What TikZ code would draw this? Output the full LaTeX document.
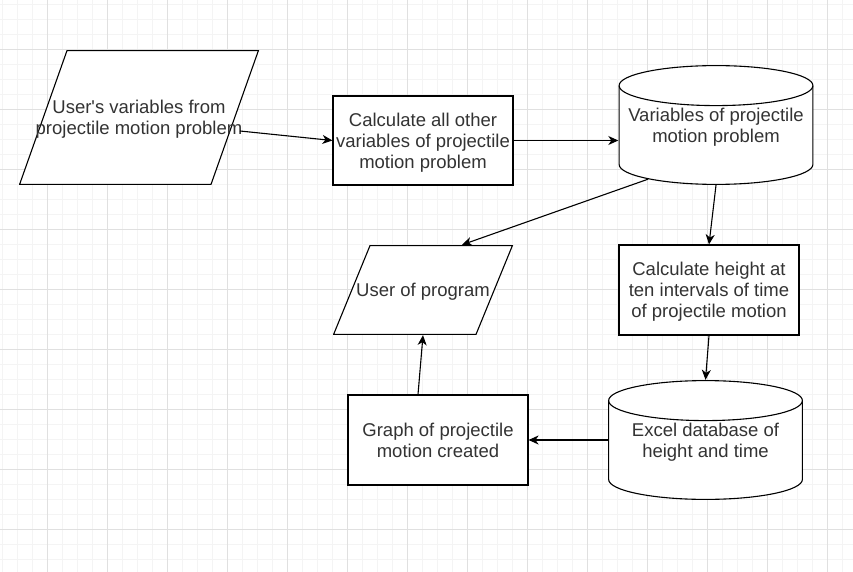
\documentclass[tikz,border=0pt]{standalone}
\usepackage{fontspec}
\setmainfont{Liberation Sans}
\usetikzlibrary{arrows.meta,positioning,calc}
\definecolor{gridmajor}{RGB}{224,224,224}
\definecolor{gridminor}{RGB}{244,244,244}
\definecolor{txtgray}{RGB}{51,51,51}
\begin{document}
\begin{tikzpicture}[
x=1pt,y=-1pt,
base/.style={
  align=center,
  text=txtgray,
  inner sep=0pt,
  text depth=0pt,
  font=\fontsize{18.5}{21}\selectfont
  },
box/.style={
  base,
  draw,
  line width=1.1pt,
  fill=white,
  minimum width=180pt,
  minimum height=90pt
  },
io/.style={
  base,
  path picture={
    \draw[line width=1.1pt,fill=white]
      ($(path picture bounding box.south west)+(0.6pt,0.6pt)$)
      -- ($(path picture bounding box.north west)+(#1,-0.6pt)$)
      -- ($(path picture bounding box.north east)+(-0.6pt,-0.6pt)$)
      -- ($(path picture bounding box.south east)+(-#1,0.6pt)$)
      -- cycle;
    }
  },
db/.style={
  base,
  text depth=-2pt,
  minimum width=195pt,
  minimum height=120pt,
  path picture={
    \draw[line width=1.1pt,fill=white]
      ($(path picture bounding box.north west)+(0.6pt,-20.6pt)$)
      -- ($(path picture bounding box.south west)+(0.6pt,20.6pt)$)
      arc[start angle=180,end angle=360,x radius=96.9pt,y radius=20pt]
      -- ($(path picture bounding box.north east)+(-0.6pt,-20.6pt)$)
      arc[start angle=0,end angle=180,x radius=96.9pt,y radius=20pt]
      -- cycle;
    \draw[line width=1.1pt]
      ($(path picture bounding box.north west)+(0.6pt,-20.6pt)$)
      arc[start angle=180,end angle=360,x radius=96.9pt,y radius=20pt];
    }
  },
ar/.style={
  -{Stealth[length=10pt,width=9pt,inset=3pt]},
  line width=1.1pt
  }
]

%Background grid
\useasboundingbox (0,0) rectangle (853,572);
\foreach \gx in {2,17,...,852}
  \draw[gridminor] (\gx,0) -- (\gx,572);
\foreach \gy in {4,19,...,571}
  \draw[gridminor] (0,\gy) -- (853,\gy);
\foreach \gx in {47,107,...,852}
  \draw[gridmajor] (\gx,0) -- (\gx,572);
\foreach \gy in {49,109,...,571}
  \draw[gridmajor] (0,\gy) -- (853,\gy);

%The nodes
\node[io=48pt,minimum width=240pt,minimum height=135pt] (inp) at (139,117.5)
  {User\textquotesingle s variables from\\projectile motion problem};
\node[box,minimum height=89pt] (calc) at (423,140.5)
  {Calculate all other\\variables of projectile\\motion problem};
\node[db] (vars) at (716,125)
  {Variables of projectile\\motion problem};
\node[io=37pt,minimum width=180pt,minimum height=90pt] (user) at (423,290)
  {User of program};
\node[box] (height) at (709,290)
  {Calculate height at\\ten intervals of time\\of projectile motion};
\node[db] (excel) at (705.5,440)
  {Excel database of\\height and time};
\node[box] (graph) at (438,440)
  {Graph of projectile\\motion created};

%Aux
\coordinate (aux1) at (240,131);

\draw[ar] (aux1) -- (calc.west);
\draw[ar] (calc.east) -- (calc.east -| vars.west);
\draw[ar] ([xshift=-68pt,yshift=6pt]vars.south) -- ([xshift=39pt]user.north);
\draw[ar] (vars.south) -- (height.north);
\draw[ar] (height.south) -- (excel.north);
\draw[ar] (excel.west) -- (graph.east);
\draw[ar] ([xshift=-20pt]graph.north) -- (user.south);

\end{tikzpicture}
\end{document}
